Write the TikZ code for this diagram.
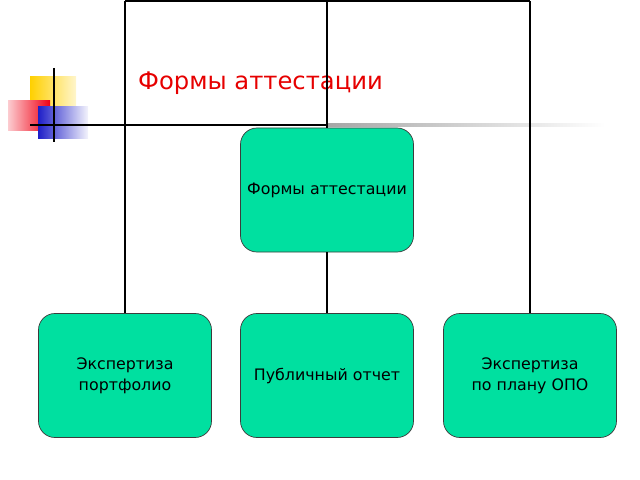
\documentclass[tikz,border=0pt]{standalone}
\usepackage{fontspec}
\setmainfont{DejaVu Sans}
\definecolor{boxgreen}{RGB}{0,224,160}
\definecolor{boxedge}{RGB}{60,60,60}
\definecolor{titlered}{RGB}{230,0,0}
\definecolor{decoyellow}{RGB}{255,208,0}
\definecolor{decored}{RGB}{240,0,20}
\definecolor{decoblue}{RGB}{30,30,200}
\tikzset{
  formbox/.style={draw=boxedge,fill=boxgreen,rounded corners=14pt,line width=0.6pt,
    minimum width=5.19cm,minimum height=3.72cm,align=center,
    font=\fontsize{13.5}{18}\selectfont},
  link/.style={line width=1.5pt}
}
\begin{document}
\begin{tikzpicture}[x=0.03cm,y=-0.03cm]
\useasboundingbox (0,0) rectangle (640,480);
\coordinate (tl) at (125,1);
\coordinate (tm) at (327,1);
\coordinate (tr) at (530,1);
\coordinate (hl) at (30,125);
\coordinate (hm) at (327,125);
\coordinate (vt) at (54,68);
\coordinate (vb) at (54,142);
% decoration
\shade[left color=decoyellow,middle color=decoyellow!85,right color=decoyellow!20] (30,77) rectangle (76,122);
\shade[left color=decored!20,middle color=decored!75,right color=decored] (8,101) rectangle (50,131);
\shade[left color=decoblue,middle color=decoblue!70,right color=decoblue!5] (38,107) rectangle (88,139);
\shade[left color=gray!70,right color=white] (327,124) rectangle (605,126.5);
\draw[link] (hl) -- (hm);
\draw[link] (vt) -- (vb);
\node[text=titlered,anchor=west,font=\fontsize{20.7}{24}\selectfont] (title) at (134,83) {Формы аттестации};
% boxes
\node[formbox] (forms) at (327,190) {Формы аттестации};
\node[formbox] (port) at (125,375.5) {Экспертиза\\портфолио};
\node[formbox] (pub) at (327,375.5) {Публичный отчет};
\node[formbox] (opo) at (530,375.5) {Экспертиза\\по плану ОПО};
% lines
\draw[link] (tl) -- (tr);
\draw[link] (tl) -- (port.north);
\draw[link] (tm) -- (forms.north);
\draw[link] (forms.south) -- (pub.north);
\draw[link] (tr) -- (opo.north);
\end{tikzpicture}
\end{document}
